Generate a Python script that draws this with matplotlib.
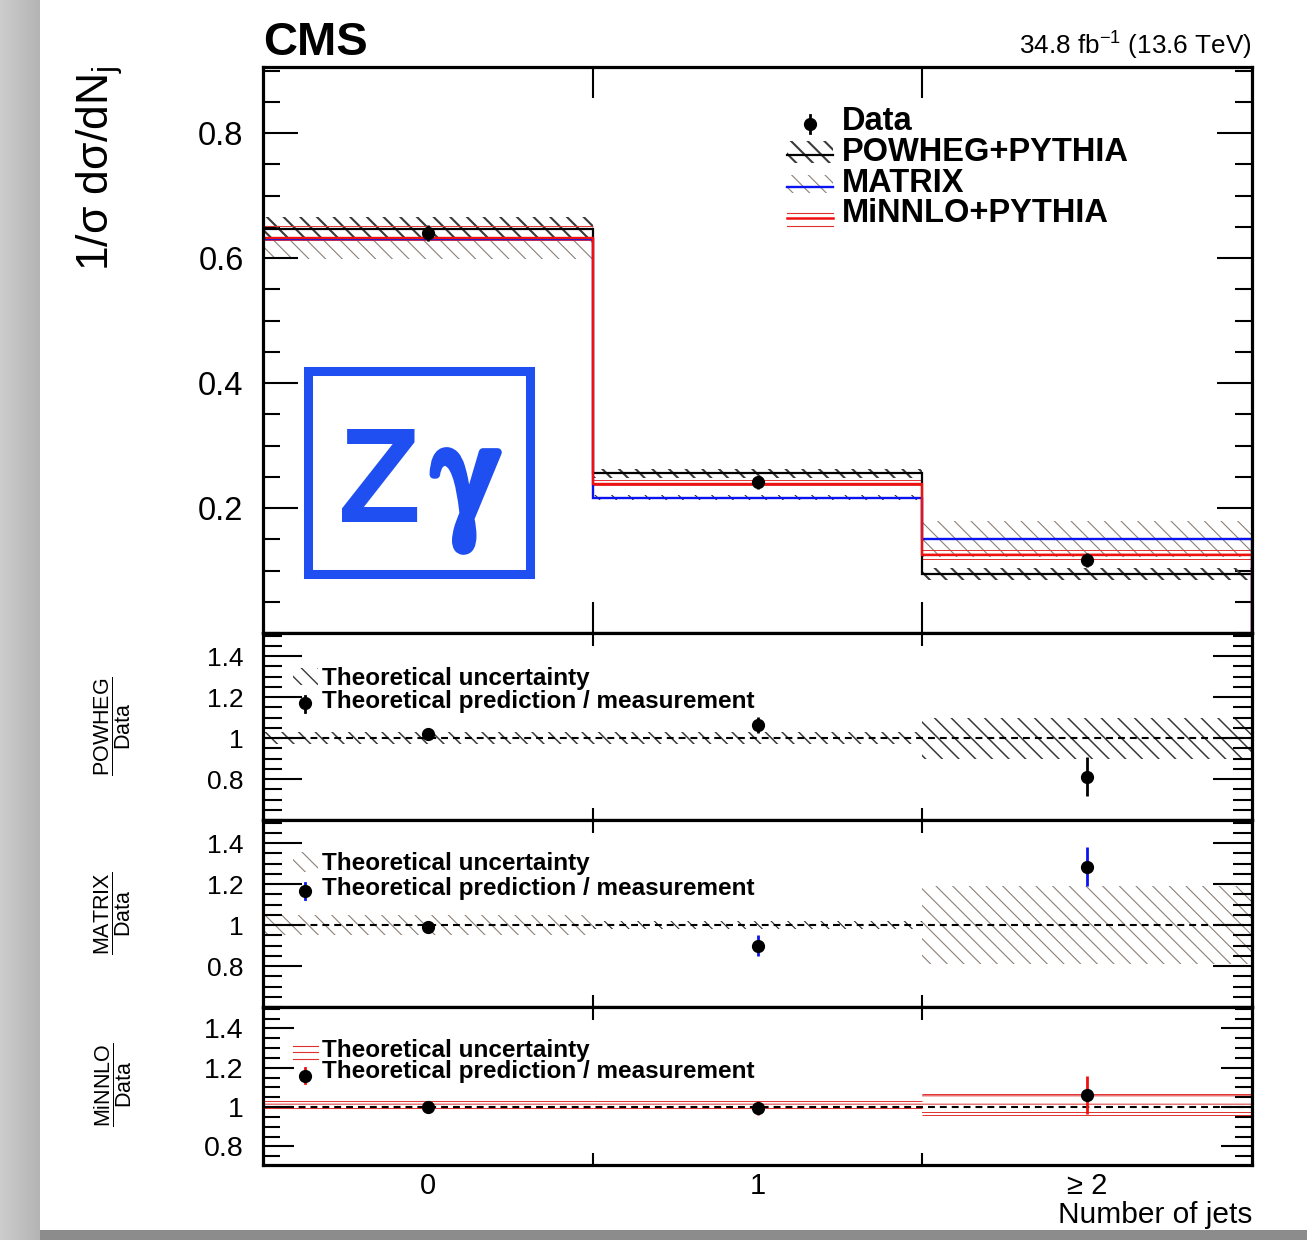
import numpy as np
import matplotlib
matplotlib.use('Agg')
import matplotlib.pyplot as plt
import matplotlib.patheffects as pe
from matplotlib.patches import Rectangle
from matplotlib.lines import Line2D
from matplotlib.ticker import (MultipleLocator, FixedLocator, NullFormatter,
                               FuncFormatter, FixedFormatter)

plt.rcParams['font.family'] = ['Liberation Sans', 'DejaVu Sans']
plt.rcParams['mathtext.fontset'] = 'custom'
plt.rcParams['mathtext.rm'] = 'Liberation Sans'
plt.rcParams['mathtext.it'] = 'Liberation Sans:italic'
plt.rcParams['mathtext.bf'] = 'Liberation Sans:bold'

# ---------------- data ----------------
categories = ['0', '1', '≥ 2']
data_vals = [0.640, 0.241, 0.117]
data_errs = [0.013, 0.011, 0.011]
powheg_vals = [0.646, 0.2555, 0.0944]
matrix_vals = [0.630, 0.2165, 0.1504]
minnlo_vals = [0.6325, 0.2384, 0.1243]
# relative theory uncertainties
powheg_unc = [0.03, 0.03, 0.10]
matrix_unc = [0.05, 0.02, 0.19]
minnlo_unc_up = [0.03, 0.03, 0.065]
minnlo_unc_dn = [0.007, 0.007, 0.042]
# ratio panels: prediction / measurement
ratio_powheg = [1.018, 1.063, 0.812]
ratio_powheg_err = [0.012, 0.040, 0.095]
ratio_matrix = [0.990, 0.900, 1.285]
ratio_matrix_err = [0.012, 0.050, 0.095]
ratio_minnlo = [1.000, 0.995, 1.062]
ratio_minnlo_err = [0.008, 0.035, 0.095]

# ---------------- styles ----------------
POW_HATCH_C = '#3a3a3a'
MAT_HATCH_C = ['#8c8078', '#2a2a2a', '#8c8078']
MIN_C = '#e03030'
LOGO_BLUE = '#1f4ff0'

W, H, DPI = 1307, 1240, 100
fig = plt.figure(figsize=(W / DPI, H / DPI), dpi=DPI)


def fx(x):
    return x / W


def fy(y):
    return 1 - y / H


# page shadow decoration
bg = fig.add_axes([0, 0, 1, 1], zorder=-10)
img = np.ones((H, W))
img[:, :40] = 0.80 - 0.10 * np.arange(40) / 40.0
img[1230:, 40:] = 0.55
bg.imshow(img, cmap='gray', vmin=0, vmax=1, aspect='auto', interpolation='nearest')
bg.axis('off')

X0, X1 = 263, 1252


def add_ax(top, bottom):
    return fig.add_axes([fx(X0), fy(bottom), (X1 - X0) / W, (bottom - top) / H])


ax0 = add_ax(67, 633)
ax1 = add_ax(633, 820)
ax2 = add_ax(820, 1007)
ax3 = add_ax(1007, 1165)

edges = np.arange(len(categories) + 1) - 0.5
centers = np.arange(len(categories))


def set_hlw(artists, hlw):
    for a in artists:
        if hasattr(a, 'set_hatch_linewidth'):
            a.set_hatch_linewidth(hlw)


def hatched_bars(ax, bottoms, heights, hatch, colors, hlw, z):
    with plt.rc_context({'hatch.linewidth': hlw}):
        bars = ax.bar(centers, heights, bottom=bottoms, width=1.0, fill=False,
                      hatch=hatch, edgecolor=colors, linewidth=0, zorder=z)
    set_hlw(bars, hlw)
    return bars


def hline_edges(ax, lows, highs, color, lw, z):
    for i in range(len(centers)):
        ax.hlines([lows[i], highs[i]], edges[i], edges[i + 1], color=color, lw=lw, zorder=z)


# ---------------- upper panel ----------------
pv = np.array(powheg_vals); mv = np.array(matrix_vals); nv = np.array(minnlo_vals)
pu = np.array(powheg_unc); mu = np.array(matrix_unc)
nu = np.array(minnlo_unc_up); nd = np.array(minnlo_unc_dn)

hatched_bars(ax0, mv * (1 - mu), 2 * mv * mu, '\\\\', MAT_HATCH_C, 0.8, 1)
hatched_bars(ax0, pv * (1 - pu), 2 * pv * pu, '\\\\', POW_HATCH_C, 1.5, 2)
hatched_bars(ax0, nv * (1 - nd), nv * (nu + nd), '--', MIN_C, 0.7, 3)
hline_edges(ax0, nv * (1 - nd), nv * (1 + nu), MIN_C, 0.7, 3)

ax0.stairs(powheg_vals, edges, baseline=0, color='black', lw=1.6, zorder=4)
ax0.stairs(matrix_vals, edges, baseline=0, color='#0a14f0', lw=1.7, zorder=5)
ax0.stairs(minnlo_vals, edges, baseline=0, color='#f01010', lw=1.7, zorder=6)
ax0.errorbar(centers, data_vals, yerr=data_errs, fmt='o', color='black', ms=8.5,
             elinewidth=2.0, capsize=0, zorder=10)
ax0.set_ylim(0, 0.9056)

# ---------------- ratio panels ----------------
ratio_specs = [
    (ax1, ratio_powheg, ratio_powheg_err, 'black'),
    (ax2, ratio_matrix, ratio_matrix_err, '#0a14f0'),
    (ax3, ratio_minnlo, ratio_minnlo_err, '#f01010'),
]
hatched_bars(ax1, 1 - pu, 2 * pu, '\\\\', POW_HATCH_C, 1.1, 1)
hatched_bars(ax2, 1 - mu, 2 * mu, '\\\\', MAT_HATCH_C, 0.8, 1)
hatched_bars(ax3, 1 - nd, nu + nd, '--', MIN_C, 0.7, 1)
hline_edges(ax3, 1 - nd, 1 + nu, MIN_C, 0.7, 1)

for ax, rv, re, ec in ratio_specs:
    ax.axhline(1.0, color='black', ls=(0, (3.3, 2.4)), lw=1.5, zorder=3)
    ax.errorbar(centers, rv, yerr=re, fmt='none', ecolor=ec, elinewidth=2.0, capsize=0, zorder=9)
    ax.plot(centers, rv, 'o', color='black', ms=8.5, zorder=10)

ax1.set_ylim(0.6, 1.513)
ax2.set_ylim(0.6, 1.513)
ax3.set_ylim(0.705, 1.509)

# ---------------- axes styling ----------------
fmt = FuncFormatter(lambda v, p: f'{v:g}')


def style(ax, ymaj, ymin, lmaj, lmin, xlen, lsize):
    for s in ax.spines.values():
        s.set_linewidth(2.3)
        s.set_zorder(20)
    ax.set_xlim(-0.5, 2.5)
    ax.xaxis.set_major_locator(FixedLocator([0.5, 1.5]))
    ax.xaxis.set_major_formatter(NullFormatter())
    ax.yaxis.set_major_locator(FixedLocator(ymaj))
    ax.yaxis.set_minor_locator(MultipleLocator(ymin))
    ax.yaxis.set_major_formatter(fmt)
    ax.tick_params(axis='y', which='both', direction='in', left=True, right=True,
                   width=1.5, labelsize=lsize, pad=14)
    ax.tick_params(axis='y', which='major', length=lmaj)
    ax.tick_params(axis='y', which='minor', length=lmin)
    ax.tick_params(axis='x', which='major', direction='in', top=True, bottom=True,
                   length=xlen, width=1.5)


style(ax0, [0.2, 0.4, 0.6, 0.8], 0.05, 25, 12, 22, 23.5)
style(ax1, [0.8, 1.0, 1.2, 1.4], 0.05, 28, 14, 9, 19)
style(ax2, [0.8, 1.0, 1.2, 1.4], 0.05, 28, 14, 9, 19)
style(ax3, [0.8, 1.0, 1.2, 1.4], 0.05, 22, 12, 9, 20.5)

ax3.xaxis.set_minor_locator(FixedLocator(centers))
ax3.xaxis.set_minor_formatter(FixedFormatter(categories))
ax3.tick_params(axis='x', which='minor', length=0, labelsize=21, pad=5)

# ---------------- texts ----------------
fig.text(fx(263), fy(55), 'CMS', fontsize=34, fontweight='bold', ha='left', va='baseline')
fig.text(fx(1252), fy(55), r'34.8 fb$^{\mathregular{-1}}$ (13.6 TeV)', fontsize=18.8,
         ha='right', va='baseline')
fig.text(fx(100), fy(168), r'1/σ dσ/dN$_{\mathregular{j}}$', fontsize=32, rotation=90,
         ha='center', va='center')
fig.text(fx(1252), fy(1223), 'Number of jets', fontsize=21.5, ha='right', va='baseline')

for lab, yc in [('POWHEG', 726), ('MATRIX', 913), ('MiNNLO', 1085)]:
    fig.text(fx(113), fy(yc), r'$\dfrac{\mathrm{%s}}{\mathrm{Data}}$' % lab, fontsize=15.5,
             rotation=90, ha='center', va='center')

# logo
fig.add_artist(Rectangle((fx(307.5), fy(573.5)), fx(529.5) - fx(307.5), fy(371.5) - fy(573.5),
                         transform=fig.transFigure, fill=False, edgecolor=LOGO_BLUE, lw=6.5))
fig.text(fx(421), fy(522), 'Z', fontsize=98, fontweight='heavy', color=LOGO_BLUE,
         ha='right', va='baseline', family=['Liberation Sans'])
fig.text(fx(466), fy(485), r'$\mathrm{\gamma}$', fontsize=106, color=LOGO_BLUE,
         ha='center', va='center', math_fontfamily='stix',
         path_effects=[pe.withStroke(linewidth=6, foreground=LOGO_BLUE)])


# ---------------- legends (manual) ----------------
def leg_text(x, y, s, size):
    fig.text(fx(x), fy(y), s, fontsize=size, fontweight='bold', ha='left', va='baseline')


def leg_hatch(x0, y0, x1, y1, hatch, color, hlw):
    with plt.rc_context({'hatch.linewidth': hlw}):
        r = Rectangle((fx(x0), fy(y1)), fx(x1) - fx(x0), fy(y0) - fy(y1),
                      transform=fig.transFigure, fill=False, hatch=hatch,
                      edgecolor=color, linewidth=0)
    set_hlw([r], hlw)
    fig.add_artist(r)


def leg_line(x0, x1, y, color, lw):
    fig.add_artist(Line2D([fx(x0), fx(x1)], [fy(y), fy(y)], transform=fig.transFigure,
                          color=color, lw=lw))


def leg_marker(x, y, y0, y1, ec):
    fig.add_artist(Line2D([fx(x), fx(x)], [fy(y0), fy(y1)], transform=fig.transFigure,
                          color=ec, lw=2.0))
    fig.add_artist(Line2D([fx(x)], [fy(y)], transform=fig.transFigure, marker='o',
                          color='black', ms=8.5, lw=0))


LS = 23.5
leg_marker(810, 124, 115, 133, 'black')
leg_text(842, 130, 'Data', LS)
leg_hatch(787, 141, 833, 163, '\\\\', POW_HATCH_C, 1.5)
leg_line(787, 833, 155, 'black', 1.6)
leg_text(842, 161, 'POWHEG+PYTHIA', LS)
leg_hatch(787, 175, 833, 193, '\\\\', MAT_HATCH_C[0], 0.8)
leg_line(787, 833, 186.5, '#0a14f0', 1.7)
leg_text(842, 192, 'MATRIX', LS)
for yy in (212.5, 226):
    leg_line(787, 833, yy, MIN_C, 0.8)
leg_line(787, 833, 218, '#f01010', 1.8)
leg_text(842, 222, 'MiNNLO+PYTHIA', LS)

RS = 17.5
# ratio panel 1
leg_hatch(293, 668, 318, 685, '\\\\', POW_HATCH_C, 1.0)
leg_text(322, 685, 'Theoretical uncertainty', RS)
leg_marker(305, 703, 696, 712, 'black')
leg_text(322, 708, 'Theoretical prediction / measurement', RS)
# ratio panel 2
leg_hatch(293, 852, 318, 872, '\\\\', MAT_HATCH_C[0], 0.8)
leg_text(322, 870, 'Theoretical uncertainty', RS)
leg_marker(305, 891, 883, 899, '#0a14f0')
leg_text(322, 895, 'Theoretical prediction / measurement', RS)
# ratio panel 3
for yy in (1045.7, 1052.3, 1059):
    leg_line(293, 318, yy, MIN_C, 0.8)
leg_text(322, 1057, 'Theoretical uncertainty', RS)
leg_marker(305, 1075.5, 1068, 1083, '#f01010')
leg_text(322, 1078, 'Theoretical prediction / measurement', RS)

fig.savefig('out.png', dpi=DPI)
